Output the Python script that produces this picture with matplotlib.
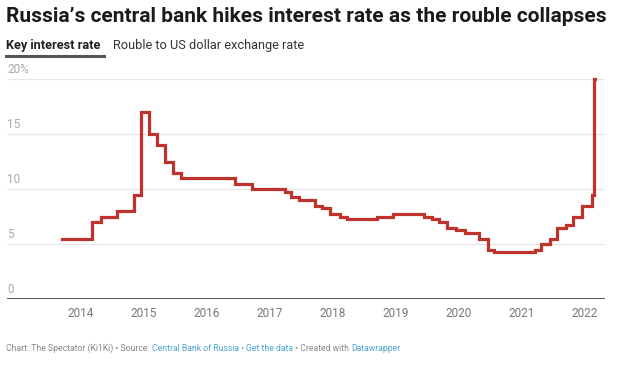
import datetime as dt
import matplotlib
matplotlib.use("Agg")
import matplotlib.pyplot as plt
import matplotlib.dates as mdates

plt.rcParams['font.family'] = ['Roboto', 'DejaVu Sans']

# key rate changes (date, rate %)
change_dates = [
    "2013-09-13", "2014-03-03", "2014-04-28", "2014-07-28", "2014-11-05",
    "2014-12-12", "2014-12-16", "2015-02-02", "2015-03-16", "2015-05-05",
    "2015-06-16", "2015-08-03", "2016-06-14", "2016-09-19", "2017-03-27",
    "2017-05-02", "2017-06-19", "2017-09-18", "2017-10-30", "2017-12-18",
    "2018-02-12", "2018-03-26", "2018-09-17", "2018-12-17", "2019-06-17",
    "2019-07-29", "2019-09-09", "2019-10-28", "2019-12-16", "2020-02-10",
    "2020-04-27", "2020-06-22", "2020-07-27", "2021-03-22", "2021-04-26",
    "2021-06-15", "2021-07-26", "2021-09-13", "2021-10-25", "2021-12-20",
    "2022-02-14", "2022-02-28", "2022-03-04",
]
rates = [
    5.5, 7.0, 7.5, 8.0, 9.5,
    10.5, 17.0, 15.0, 14.0, 12.5,
    11.5, 11.0, 10.5, 10.0, 9.75,
    9.25, 9.0, 8.5, 8.25, 7.75,
    7.5, 7.25, 7.5, 7.75, 7.5,
    7.25, 7.0, 6.5, 6.25, 6.0,
    5.5, 4.5, 4.25, 4.5, 5.0,
    5.5, 6.5, 6.75, 7.5, 8.5,
    9.5, 20.0, 20.0,
]
years = list(range(2014, 2023))
y_ticks = [0, 5, 10, 15, 20]
y_labels = ["0", "5", "10", "15", "20%"]

dates = [dt.datetime.strptime(d, "%Y-%m-%d") for d in change_dates]

W, H = 620, 367
fig = plt.figure(figsize=(W / 100, H / 100), dpi=100)
ax = fig.add_axes([7 / W, (H - 299) / H, (605 - 7) / W, (299 - 79) / H])

ax.plot(dates, rates, drawstyle="steps-post", color="#c0322c", lw=2.3,
        clip_on=False, solid_joinstyle="miter", zorder=3)

ax.set_ylim(0, 20)
ax.set_xlim(mdates.date2num(dt.datetime(2012, 10, 28)),
            mdates.date2num(dt.datetime(2022, 4, 30)))

for s in ax.spines.values():
    s.set_visible(False)
ax.axhline(0, color="#333333", lw=1.2, zorder=4)
for v in y_ticks[1:]:
    ax.axhline(v, color="#e6e6e6", lw=0.9, zorder=1)
for v, lab in zip(y_ticks, y_labels):
    ax.text(0, v + 0.3, lab, transform=ax.get_yaxis_transform(),
            ha="left", va="bottom", fontsize=8.5, color="#aaaaaa")

ax.set_yticks([])
ax.set_xticks([mdates.date2num(dt.datetime(y, 1, 1)) for y in years])
ax.set_xticklabels([str(y) for y in years], fontsize=8.5, color="#777777")
ax.tick_params(axis="x", length=0, pad=6)

# title and tabs
fig.text(6 / W, 1 - 17 / H, "Russia\u2019s central bank hikes interest rate as the rouble collapses",
         fontsize=15.0, fontweight="bold", color="#1a1a1a", va="center", ha="left")
fig.text(6 / W, 1 - 45 / H, "Key interest rate", fontsize=9.2, fontweight="bold",
         color="#222222", va="center", ha="left")
fig.text(113 / W, 1 - 45 / H, "Rouble to US dollar exchange rate", fontsize=9.2,
         color="#333333", va="center", ha="left")
fig.add_artist(plt.Line2D([6 / W, 104 / W], [1 - 56 / H, 1 - 56 / H],
                          color="#555555", lw=2.2))

# footer with coloured links, chained one after another
grey, blue = "#888888", "#4aa3d3"
parts = [
    ("Chart: The Spectator (Ki1Ki) \u2022 Source: ", grey),
    ("Central Bank of Russia", blue),
    (" \u2022 ", grey),
    ("Get the data", blue),
    (" \u2022 Created with ", grey),
    ("Datawrapper", blue),
]
fsz = 6.2
base = fig.text(6 / W, 1 - 348 / H, parts[0][0], fontsize=fsz, color=parts[0][1],
                va="center", ha="left")
for txt, col in parts[1:]:
    base = ax.annotate(txt, xy=(1, 0), xycoords=base, va="bottom", ha="left",
                       fontsize=fsz, color=col, annotation_clip=False)

fig.savefig("out.png", dpi=100)
